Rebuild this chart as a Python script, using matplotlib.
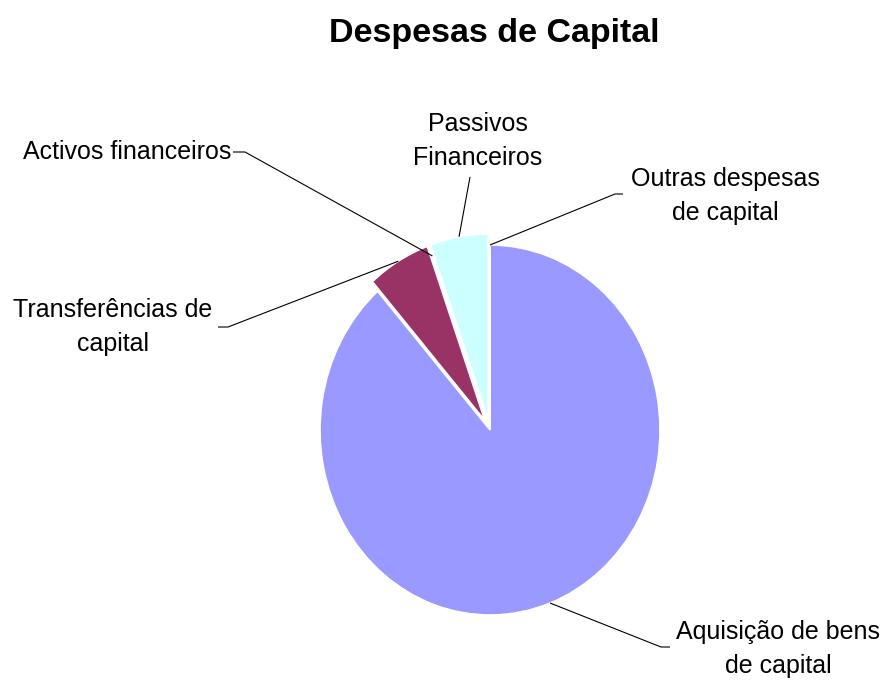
import numpy as np
import matplotlib
matplotlib.use("Agg")
import matplotlib.pyplot as plt

# ---- data ----
title = "Despesas de Capital"
categories = ["Aquisição de bens\nde capital",
              "Transferências de\ncapital",
              "Activos financeiros",
              "Passivos\nFinanceiros",
              "Outras despesas\nde capital"]
values = [88.5, 6.0, 0.0, 5.5, 0.0]
colors = ["#9999FF", "#993366", "#FFFFCC", "#CCFFFF", "#660066"]
explode = [0.0, 0.06, 0.0, 0.06, 0.0]

# ---- layout (pixels, from top-left) ----
W, H = 886, 680
CX, CY = 490, 430     # pie centre
RX, RY = 170, 185     # horizontal / vertical radius
# text x, text y, ha, leader start, leader elbow
label_layout = [
    (778, 649, "center", (670, 647), (661, 647)),
    (113, 327, "center", (218, 327), (228, 327)),
    (231, 152, "right", (233, 152), (245, 152)),
    (478, 141, "center", (470, 177), (470, 177)),
    (725, 196, "center", (623, 194), (615, 194)),
]

plt.rcParams["font.family"] = ["Liberation Sans", "DejaVu Sans"]

fig = plt.figure(figsize=(W / 100, H / 100), dpi=100)
ax = fig.add_axes([0, 0, 1, 1])
wedges, _ = ax.pie(values, colors=colors, explode=explode, startangle=90,
                   counterclock=False, radius=1,
                   wedgeprops=dict(edgecolor="white", linewidth=1.2))
ax.set_aspect("auto")
ax.set_xlim(-CX / RX, (W - CX) / RX)
ax.set_ylim(-(H - CY) / RY, CY / RY)
ax.axis("off")


def px(x, y):
    return ((x - CX) / RX, (CY - y) / RY)


for w, lab, (tx, ty, ha, p0, p1) in zip(wedges, categories, label_layout):
    mid = np.deg2rad((w.theta1 + w.theta2) / 2.0)
    cx, cy = w.center
    anchor = (cx + w.r * np.cos(mid), cy + w.r * np.sin(mid))
    a = px(*p0)
    b = px(*p1)
    ax.plot([a[0], b[0], anchor[0]], [a[1], b[1], anchor[1]],
            color="black", linewidth=0.8, solid_capstyle="butt", zorder=3)
    x, y = px(tx, ty)
    ax.text(x, y, lab, ha=ha, va="center", multialignment="center",
            fontsize=18, color="black", linespacing=1.5)

tx, ty = px(494, 34)
ax.text(tx, ty, title, ha="center", va="center", fontsize=24.5,
        fontweight="bold", color="black")

fig.savefig("out.png", dpi=100, facecolor="white")
